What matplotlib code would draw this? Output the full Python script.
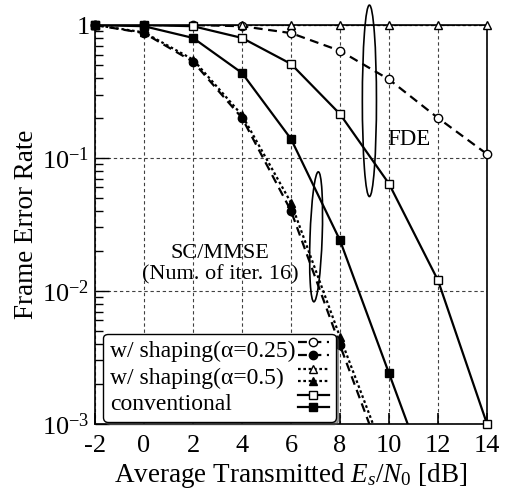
import matplotlib
matplotlib.use("Agg")
import matplotlib.pyplot as plt
import numpy as np
from matplotlib.lines import Line2D
from matplotlib.legend_handler import HandlerBase
from matplotlib.patches import Ellipse
from matplotlib.ticker import FixedLocator, LogLocator, NullFormatter

plt.rcParams['font.family'] = ['Liberation Serif', 'DejaVu Serif']
plt.rcParams['mathtext.fontset'] = 'custom'
plt.rcParams['mathtext.rm'] = 'Liberation Serif'
plt.rcParams['mathtext.it'] = 'Liberation Serif:italic'
plt.rcParams['axes.unicode_minus'] = False

# ---- data ----
snr = [-2, 0, 2, 4, 6, 8, 10, 12, 14]
fde_a025 = [1.0, 1.0, 1.0, 0.98, 0.87, 0.64, 0.39, 0.20, 0.107]
fde_a05 = [1.0, 1.0, 1.0, 1.0, 1.0, 1.0, 1.0, 1.0, 1.0]
fde_conv = [1.0, 1.0, 0.98, 0.80, 0.51, 0.214, 0.064, 0.012, 0.001]

snr_sc = [-2, 0, 2, 4, 6, 8, 10]
sc_a025 = [1.0, 0.87, 0.53, 0.20, 0.040, 0.0039, 0.0004]
sc_a05 = [1.0, 0.88, 0.55, 0.21, 0.046, 0.0045, 0.00048]
snr_scc = [-2, 0, 2, 4, 6, 8, 10, 12]
sc_conv = [1.0, 0.98, 0.80, 0.436, 0.139, 0.024, 0.0024, 0.00024]

legend_labels = ['w/ shaping(α=0.25)', 'w/ shaping(α=0.5)', 'conventional']
xticks = [-2, 0, 2, 4, 6, 8, 10, 12, 14]

fig = plt.figure(figsize=(5.11, 5.01), dpi=100)
ax = fig.add_axes([0.186, 0.154, 0.767, 0.796])
ax.set_yscale('log')
ax.set_xlim(-2, 14)
ax.set_ylim(1e-3, 1)

lw = 1.6
ms = 6
styles = {
    'a025': dict(ls=(0, (4, 2.5)), marker='o'),
    'a05': dict(ls=(0, (1.2, 1.2)), marker='^'),
    'conv': dict(ls='-', marker='s'),
}

def draw(x, y, key, filled):
    st = styles[key]
    ax.plot(x, y, color='black', lw=lw, ls=st['ls'], zorder=3)
    x = np.array(x); y = np.array(y)
    m = (y >= 1e-3 * 0.999) & (y <= 1.0001)
    ax.plot(x[m], y[m], ls='none', marker=st['marker'], ms=ms,
            mfc='black' if filled else 'white', mec='black', mew=1.0,
            clip_on=False, zorder=4)

draw(snr, fde_a025, 'a025', False)
draw(snr, fde_a05, 'a05', False)
draw(snr, fde_conv, 'conv', False)
draw(snr_sc, sc_a025, 'a025', True)
draw(snr_sc, sc_a05, 'a05', True)
draw(snr_scc, sc_conv, 'conv', True)

# grid
ax.set_xticks(xticks)
ax.set_xticklabels([str(v) for v in xticks])
ax.yaxis.set_major_locator(FixedLocator([1e-3, 1e-2, 1e-1, 1]))
ax.set_yticklabels([r'$10^{-3}$', r'$10^{-2}$', r'$10^{-1}$', '1'])
ax.yaxis.set_minor_locator(LogLocator(base=10, subs=np.arange(2, 10)))
ax.yaxis.set_minor_formatter(NullFormatter())
ax.grid(True, which='major', ls=(0, (3, 2.5)), lw=0.8, color='0.25')
ax.tick_params(axis='both', which='both', direction='in', labelsize=19,
               top=False, right=False)
ax.tick_params(axis='y', which='major', length=10, width=1, pad=4)
ax.tick_params(axis='y', which='minor', length=6, width=1)
ax.tick_params(axis='x', which='major', length=8, width=1.2, pad=8)
ax.tick_params(axis='x', which='minor', bottom=False)
for s in ax.spines.values():
    s.set_linewidth(1.2)

ax.set_xlabel(r'Average Transmitted $E_s/N_0$ [dB]', fontsize=19.5, labelpad=3)
ax.set_ylabel('Frame Error Rate', fontsize=19.5, labelpad=2)

# annotations
ax.text(0.80, 0.712, 'FDE', transform=ax.transAxes, fontsize=16.5,
        ha='center', va='center', zorder=5)
ax.text(0.319, 0.40, 'SC/MMSE\n(Num. of iter. 16)', transform=ax.transAxes,
        fontsize=16, ha='center', va='center', linespacing=1.15, zorder=5)
ax.add_patch(Ellipse((0.70, 0.81), 0.036, 0.48, transform=ax.transAxes,
                     fill=False, lw=1.2, ec='black', clip_on=False, zorder=5))
ax.add_patch(Ellipse((0.564, 0.469), 0.031, 0.326, angle=-2, transform=ax.transAxes,
                     fill=False, lw=1.2, ec='black', clip_on=False, zorder=5))

# legend with stacked handles
class PairHandler(HandlerBase):
    def __init__(self, key):
        super().__init__()
        self.key = key
    def create_artists(self, legend, orig_handle, xdescent, ydescent, width, height, fontsize, trans):
        st = styles[self.key]
        arts = []
        for frac, filled in ((0.9, False), (0.15, True)):
            y = -ydescent + height * frac
            l = Line2D([-xdescent, -xdescent + width], [y, y], color='black', lw=lw, ls=st['ls'])
            m = Line2D([-xdescent + width / 2], [y], ls='none', marker=st['marker'], ms=ms,
                       mfc='black' if filled else 'white', mec='black', mew=1.0)
            l.set_transform(trans); m.set_transform(trans)
            arts += [l, m]
        return arts

dummies = [Line2D([], []) for _ in range(3)]
leg = ax.legend(dummies, legend_labels, loc='lower left', bbox_to_anchor=(0.02, 0.005),
                bbox_transform=ax.transAxes, borderaxespad=0, fontsize=17,
                markerfirst=False, handlelength=1.3, handletextpad=0.1,
                labelspacing=0.2, borderpad=0.3, fancybox=True, shadow=True,
                frameon=True, edgecolor='black', framealpha=1,
                handler_map={dummies[0]: PairHandler('a025'),
                             dummies[1]: PairHandler('a05'),
                             dummies[2]: PairHandler('conv')})
leg.get_frame().set_linewidth(1.0)
leg.set_zorder(10)

# left-align legend text while keeping handles right-aligned
fig.canvas.draw()
renderer = fig.canvas.get_renderer()
try:
    cols = leg._legend_handle_box.get_children()
    for col in cols:
        rows = col.get_children()
        widths = [r.get_bbox(renderer).width for r in rows]
        wmax = max(widths)
        for r in rows:
            r.mode = 'expand'
            r.width = wmax
except Exception:
    pass

fig.savefig('out.png', dpi=100)
